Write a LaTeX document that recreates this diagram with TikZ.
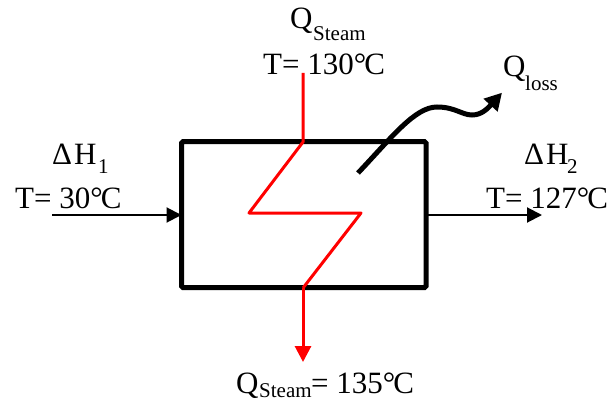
\documentclass[tikz,border=0pt]{standalone}
\usepackage{fontspec}
\setmainfont{Liberation Serif}
\usetikzlibrary{arrows.meta}
\tikzset{
 lbl/.style={inner sep=0pt,font=\fontsize{31}{34}\selectfont,anchor=base west},
 sub/.style={inner sep=0pt,font=\fontsize{21}{23}\selectfont,anchor=base west},
 redl/.style={draw=red,line width=3pt,line join=round},
 thin arrow/.style={draw=black,line width=2pt,-{Triangle[length=15pt,width=15pt]}},
 boxs/.style={draw=black,line width=5pt,rounded corners=1.5pt},
}
\begin{document}
\begin{tikzpicture}[x=1pt,y=-1pt]
\useasboundingbox (0,0) rectangle (609,403);
\node[lbl] (qtop) at (290,29) {Q};
\node[sub] (qtopsub) at (313,41) {Steam};
\node[lbl] (ttop) at (263,75) {T= 130°\kern-2pt C};
\node[lbl] (qloss) at (503,77) {Q};
\node[sub] (qlosssub) at (525,91) {loss};
\node[lbl] (h1) at (52,165) {Δ\kern2pt H};
\node[sub] (h1sub) at (98,174) {1};
\node[lbl] (t1) at (15,208) {T= 30°\kern-2pt C};
\node[lbl] (h2) at (524,165) {Δ\kern2pt H};
\node[sub] (h2sub) at (567,174) {2};
\node[lbl] (t2) at (486,208) {T= 127°\kern-2pt C};
\node[lbl] (qbot) at (236,393) {Q};
\node[sub] (qbotsub) at (259,397) {Steam};
\node[lbl] (tbot) at (311,393) {= 135°\kern-2pt C};
\node[boxs,minimum width=244.5pt,minimum height=145.8pt,inner sep=0pt,outer sep=0pt] (box) at (303.75,214.6) {};
\coordinate (inl) at (52,215);
\coordinate (outr) at (542,215);
\coordinate (rtop) at (303,73);
\coordinate (rbot) at (303,362);
\coordinate (lossa) at (358,173);
\coordinate (lossb) at (502,92.7);
\draw[thin arrow] (inl) -- (box.west |- inl);
\draw[thin arrow] (box.east |- outr) -- (outr);
\draw[redl] (rtop) -- (303,142) -- (249,213) -- (361,213) -- (303,288);
\draw[draw=red,line width=3pt,-{Triangle[length=16pt,width=16pt]}] (303,288) -- (rbot);
\draw[draw=black,line width=5pt,-{Triangle[length=17pt,width=18pt]}] (lossa) .. controls (392,137) and (415,107) .. (437,107) .. controls (455,107) and (462,115) .. (472,115) .. controls (482,115) and (488,108) .. (lossb);
\end{tikzpicture}
\end{document}
